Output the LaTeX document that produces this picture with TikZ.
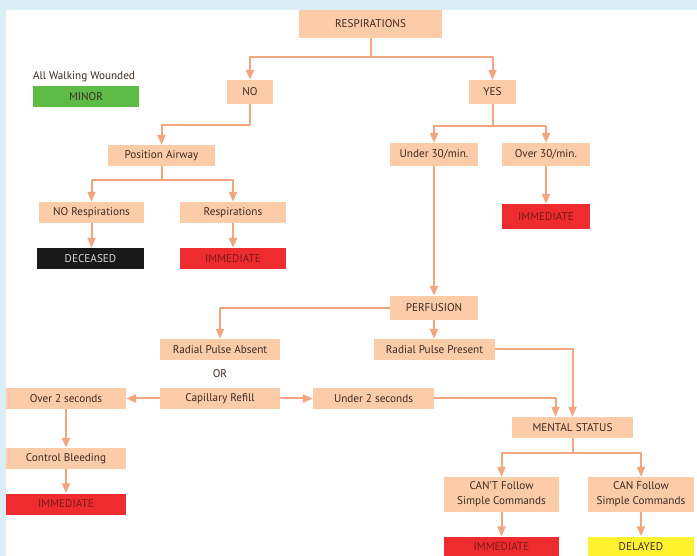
\documentclass[tikz,border=0pt]{standalone}
\usepackage{fontspec}
\setmainfont{PT Sans}
\usetikzlibrary{arrows.meta}
\definecolor{sky}{HTML}{DCEEF5}
\definecolor{peach}{HTML}{FCCBA8}
\definecolor{wire}{HTML}{F3A67E}
\definecolor{ink}{HTML}{3B2B22}
\definecolor{alarm}{HTML}{EE2B2F}
\definecolor{alarmtext}{HTML}{7A1A1A}
\definecolor{minorgreen}{HTML}{5DBB46}
\definecolor{delay}{HTML}{FFF22E}
\begin{document}
\begin{tikzpicture}[x=1pt,y=-1pt,line join=round,font=\fontsize{11.2}{15}\selectfont,
	>={Triangle[length=10pt,width=8pt]},
	box/.style={fill=peach,text=ink,inner sep=0pt,minimum height=21pt,minimum width=#1pt},
	red tag/.style={fill=alarm,text=alarmtext},
	link/.style={draw=wire,line width=2pt,->,color=wire}]
	\useasboundingbox (0,0) rectangle (697,556);
	\clip (0,0) rectangle (697,556);
	\fill[sky] (0,0) rectangle (697,556);
	\fill[white] (6,10) rectangle (697,556);
	\node[box=143,minimum height=28pt] (resp) at (370.5,24) {RESPIRATIONS};
	\node[box=46,minimum height=24pt] (no) at (250,92) {NO};
	\node[box=47,minimum height=24pt] (yes) at (492.5,92) {YES};
	\node[text=ink] (walk) at (84,77) {All Walking Wounded};
	\node[box=106,fill=minorgreen,text=ink] (minor) at (86,96.5) {MINOR};
	\node[box=107] (airway) at (161.5,155.5) {Position Airway};
	\node[box=105] (noresp) at (91.5,212.5) {NO Respirations};
	\node[box=106] (breath) at (233,212.5) {Respirations};
	\node[box=107,fill=black!90,text=black!15] (dead) at (90.5,258.5) {DECEASED};
	\node[box=106,red tag] (imm1) at (233,258.5) {IMMEDIATE};
	\node[box=88,minimum height=23pt] (under30) at (434,154.5) {Under 30/min.};
	\node[box=88,minimum height=23pt] (over30) at (546,154.5) {Over 30/min.};
	\node[box=88,minimum height=25pt,red tag] (imm2) at (546,216.5) {IMMEDIATE};
	\node[box=88,minimum height=24pt] (perf) at (434,308) {PERFUSION};
	\node[box=120] (absent) at (220,349.5) {Radial Pulse Absent};
	\node[text=ink] (or) at (220,374) {OR};
	\node[box=120] (refill) at (220,398.5) {Capillary Refill};
	\node[box=120] (over2) at (66,398.5) {Over 2 seconds};
	\node[box=121] (under2) at (373.5,398.5) {Under 2 seconds};
	\node[box=121] (present) at (434.5,349.5) {Radial Pulse Present};
	\node[box=121] (mental) at (572.5,427.5) {MENTAL STATUS};
	\node[box=120] (bleed) at (66,458.5) {Control Bleeding};
	\node[box=120,red tag] (imm3) at (66,504) {IMMEDIATE};
	\node[box=115,minimum height=35pt,align=center] (cant) at (501.5,494.5) {CAN'T Follow\\Simple Commands};
	\node[box=106,minimum height=35pt,align=center] (can) at (641,494.5) {CAN Follow\\Simple Commands};
	\node[box=115,red tag] (imm4) at (501.5,547) {IMMEDIATE};
	\node[box=106,fill=delay] (delayed) at (641,547) {DELAYED};
	\draw[link] (resp.south) -- ++(0,19) -| (no);
	\draw[link] (resp.south) -- ++(0,19) -| (yes);
	\draw[link] (no.south) -- ++(0,21) -| (airway);
	\draw[link] (airway.south) -- ++(0,14) -| (noresp);
	\draw[link] (airway.south) -- ++(0,14) -| (breath);
	\draw[link] (noresp) -- (noresp|-dead.north);
	\draw[link] (breath) -- (imm1);
	\draw[link] (yes.south) -- ++(0,22) -| (under30);
	\draw[link] (yes.south) -- ++(0,22) -| (over30);
	\draw[link] (over30) -- (imm2);
	\draw[link] (under30) -- (perf);
	\draw[link] (perf.west) -| (absent);
	\draw[link] (perf) -- (perf|-present.north);
	\draw[link] (refill) -- (over2);
	\draw[link] (refill) -- (under2);
	\draw[link] (under2.east) -| ([xshift=-17pt]mental.north);
	\draw[link] (present.east) -| (mental);
	\draw[link] (over2) -- (bleed);
	\draw[link] (bleed) -- (imm3);
	\draw[link] (mental.south) -- ++(0,15) -| (cant);
	\draw[link] (mental.south) -- ++(0,15) -| (can);
	\draw[link] (cant) -- (imm4);
	\draw[link] (can) -- (delayed);
\end{tikzpicture}
\end{document}
